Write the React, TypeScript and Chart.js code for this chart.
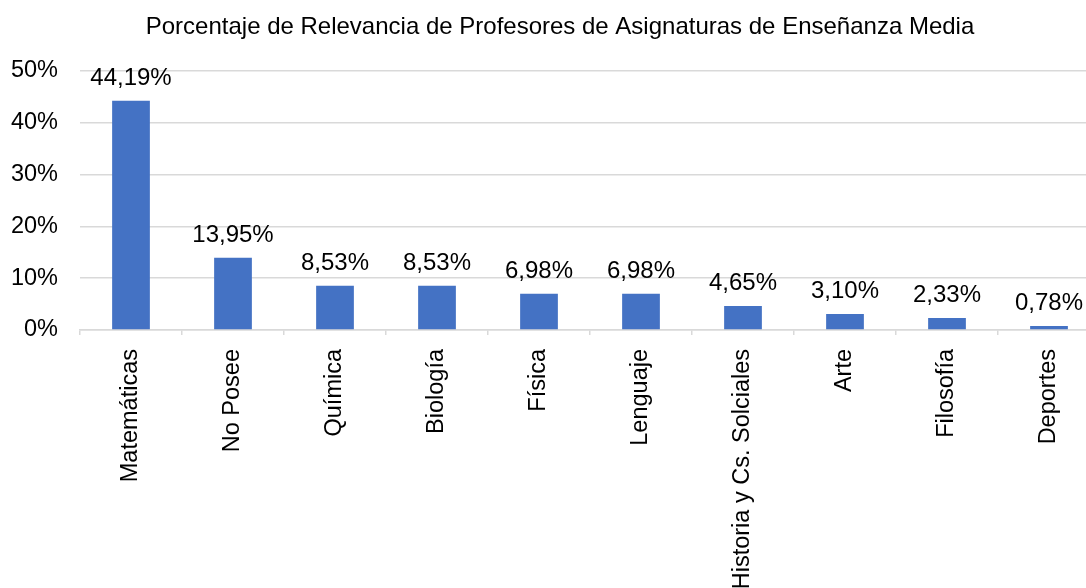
import { useEffect, useRef } from "react";
import { Chart, registerables } from "chart.js";

Chart.register(...registerables);

const TITLE = "Porcentaje de Relevancia de Profesores de Asignaturas de Enseñanza Media";
const categories = [
  "Matemáticas",
  "No Posee",
  "Química",
  "Biología",
  "Física",
  "Lenguaje",
  "Historia y Cs. Solciales",
  "Arte",
  "Filosofía",
  "Deportes",
];
const percentages = [44.19, 13.95, 8.53, 8.53, 6.98, 6.98, 4.65, 3.1, 2.33, 0.78];
const yTickValues = [0, 10, 20, 30, 40, 50];

const FONT = '"Liberation Sans", Arial, sans-serif';
const BAR_COLOR = "#4472C4";
const GRID_COLOR = "#d9d9d9";
const TEXT_COLOR = "#000000";

const W = 1120;
const H = 620;

const fmt = (v: number) => v.toFixed(2).replace(".", ",") + "%";

const titleAndLabels = {
  id: "titleAndLabels",
  afterDatasetsDraw(chart: any) {
    const ctx = chart.ctx;
    const meta = chart.getDatasetMeta(0);
    const yScale = chart.scales.y;
    ctx.save();
    ctx.font = `24px ${FONT}`;
    ctx.fillStyle = TEXT_COLOR;
    ctx.textAlign = "center";
    ctx.textBaseline = "alphabetic";
    meta.data.forEach((bar: any, i: number) => {
      const v = percentages[i];
      const y = yScale.getPixelForValue(v) - 15.5;
      ctx.fillText(fmt(v), bar.x, y);
    });
    ctx.textBaseline = "middle";
    ctx.fillText(TITLE, 560, 27);
    ctx.restore();
  },
};

export default function App() {
  const ref = useRef<HTMLCanvasElement | null>(null);

  useEffect(() => {
    if (!ref.current) return;
    const chart = new Chart(ref.current, {
      type: "bar",
      data: {
        labels: categories,
        datasets: [
          {
            data: percentages,
            backgroundColor: BAR_COLOR,
            borderWidth: 0,
            barPercentage: 0.37,
            categoryPercentage: 1,
          },
        ],
      },
      options: {
        responsive: false,
        animation: false,
        devicePixelRatio: 1,
        layout: { padding: { left: 6, right: 20, top: 70.7, bottom: 10 } },
        plugins: {
          legend: { display: false },
          tooltip: { enabled: false },
          title: { display: false },
        },
        scales: {
          x: {
            grid: {
              display: true,
              offset: true,
              drawOnChartArea: false,
              drawTicks: true,
              tickLength: 5,
              color: GRID_COLOR,
              lineWidth: 1.5,
            },
            border: { display: true, color: GRID_COLOR, width: 1.5 },
            ticks: {
              autoSkip: false,
              minRotation: 90,
              maxRotation: 90,
              padding: 14,
              color: TEXT_COLOR,
              font: { family: FONT, size: 23.5 },
            },
            afterFit(scale: any) {
              scale.height = 280;
            },
          },
          y: {
            min: 0,
            max: 50,
            grid: {
              color: GRID_COLOR,
              lineWidth: 1.5,
              drawTicks: false,
            },
            border: { display: false },
            ticks: {
              padding: 22,
              color: TEXT_COLOR,
              font: { family: FONT, size: 23.5 },
              callback: (v: any) => v + "%",
            },
            afterBuildTicks(scale: any) {
              scale.ticks = yTickValues.map((v) => ({ value: v }));
            },
            afterFit(scale: any) {
              scale.width = 74;
            },
          },
        },
      },
      plugins: [titleAndLabels],
    });
    return () => chart.destroy();
  }, []);

  return (
    <div
      style={{
        position: "fixed",
        left: 0,
        top: 0,
        width: 1086,
        height: 588,
        overflow: "hidden",
        background: "#ffffff",
      }}
    >
      <canvas
        ref={ref}
        width={W}
        height={H}
        style={{ position: "absolute", left: 0, top: 0, width: W, height: H }}
      />
    </div>
  );
}
